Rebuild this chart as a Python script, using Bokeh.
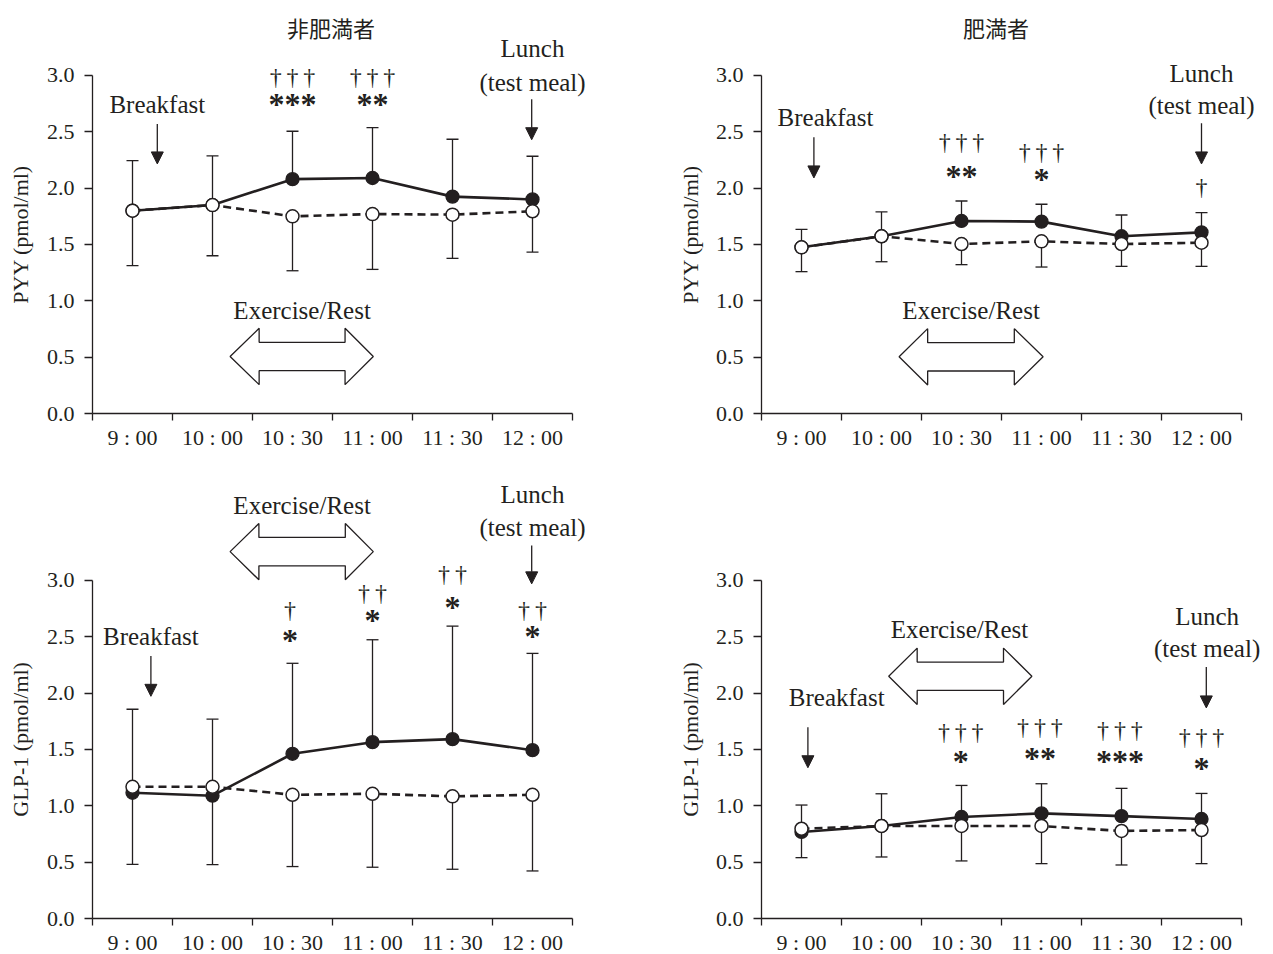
import numpy as np
from bokeh.plotting import figure
from bokeh.models import Range1d, FixedTicker, Arrow, NormalHead
from bokeh.layouts import row, column
from bokeh.embed import file_html
from bokeh.resources import INLINE
from bokeh.core.properties import value

# ---------------- data ----------------
times = ["9 : 00", "10 : 00", "10 : 30", "11 : 00", "11 : 30", "12 : 00"]
y_ticks = [0.0, 0.5, 1.0, 1.5, 2.0, 2.5, 3.0]
y_tick_labels = ["0.0", "0.5", "1.0", "1.5", "2.0", "2.5", "3.0"]

# PYY, non-obese (非肥満者)
pyy_lean_ex = [1.80, 1.85, 2.08, 2.09, 1.925, 1.90]
pyy_lean_ex_upper = [2.245, 2.286, 2.505, 2.538, 2.434, 2.283]
pyy_lean_rest = [1.80, 1.85, 1.75, 1.77, 1.765, 1.795]
pyy_lean_rest_lower = [1.312, 1.40, 1.267, 1.279, 1.377, 1.433]
pyy_lean_dagger = ["", "", "†††", "†††", "", ""]
pyy_lean_star = ["", "", "***", "**", "", ""]

# PYY, obese (肥満者)
pyy_obese_ex = [1.475, 1.573, 1.709, 1.703, 1.573, 1.608]
pyy_obese_ex_upper = [1.635, 1.789, 1.886, 1.857, 1.762, 1.783]
pyy_obese_rest = [1.475, 1.573, 1.504, 1.528, 1.504, 1.516]
pyy_obese_rest_lower = [1.259, 1.347, 1.321, 1.300, 1.306, 1.306]
pyy_obese_dagger = ["", "", "†††", "†††", "", "†"]
pyy_obese_star = ["", "", "**", "*", "", ""]

# GLP-1, non-obese
glp_lean_ex = [1.116, 1.090, 1.462, 1.565, 1.592, 1.494]
glp_lean_ex_upper = [1.857, 1.769, 2.265, 2.474, 2.595, 2.353]
glp_lean_rest = [1.169, 1.169, 1.098, 1.107, 1.084, 1.098]
glp_lean_rest_lower = [0.481, 0.478, 0.461, 0.455, 0.437, 0.422]
glp_lean_dagger = ["", "", "†", "††", "††", "††"]
glp_lean_star = ["", "", "*", "*", "*", "*"]

# GLP-1, obese
glp_obese_ex = [0.768, 0.821, 0.901, 0.933, 0.909, 0.883]
glp_obese_ex_upper = [1.007, 1.107, 1.181, 1.196, 1.155, 1.110]
glp_obese_rest = [0.797, 0.821, 0.821, 0.821, 0.777, 0.785]
glp_obese_rest_lower = [0.540, 0.546, 0.511, 0.487, 0.475, 0.487]
glp_obese_dagger = ["", "", "†††", "†††", "†††", "†††"]
glp_obese_star = ["", "", "*", "**", "***", "*"]

# ---------------- styling ----------------
INK = "#231f20"
SERIF = "Liberation Serif"
CJK = "Noto Sans CJK JP"
PX_PER_X = 80.0      # pixels per time slot
PX_PER_Y = 112.67    # pixels per pmol/ml


def thin(s):
    return "\u2009".join(list(s))


def make_panel(ex, ex_up, rest, rest_lo, daggers, stars, cfg):
    W, H = cfg["W"], cfg["H"]
    ox, oy = cfg["ox"], cfg["oy"]   # pixel position of the axes origin inside the figure
    xr = Range1d(-ox / PX_PER_X, (W - ox) / PX_PER_X)
    yr = Range1d(-(H - oy) / PX_PER_Y, oy / PX_PER_Y)
    p = figure(width=W, height=H, min_border=0, min_border_left=0, min_border_right=0,
               min_border_top=0, min_border_bottom=0, x_range=xr, y_range=yr,
               output_backend="svg", toolbar_location=None, tools="")
    p.outline_line_color = None
    p.grid.visible = False

    n = len(times)
    xpos = np.arange(n) + 0.5

    xa = p.xaxis[0]
    xa.fixed_location = 0
    xa.bounds = (0, n)
    xa.ticker = FixedTicker(ticks=list(xpos), minor_ticks=list(range(n + 1)))
    xa.major_label_overrides = {float(x): t for x, t in zip(xpos, times)}
    xa.major_tick_out = 0
    xa.major_tick_in = 0
    xa.major_tick_line_color = None
    xa.minor_tick_out = 7
    xa.minor_tick_in = 0
    xa.minor_tick_line_color = INK
    xa.minor_tick_line_width = 1.3
    xa.major_label_standoff = 4
    xa.major_label_text_font = SERIF
    xa.major_label_text_font_size = "22px"
    xa.major_label_text_color = INK
    xa.axis_line_color = INK
    xa.axis_line_width = 1.3

    ya = p.yaxis[0]
    ya.fixed_location = 0
    ya.bounds = (y_ticks[0], y_ticks[-1])
    ya.ticker = FixedTicker(ticks=y_ticks)
    ya.major_label_overrides = {t: l for t, l in zip(y_ticks, y_tick_labels)}
    ya.major_tick_out = 8
    ya.major_tick_in = 0
    ya.minor_tick_line_color = None
    ya.major_label_standoff = 10
    ya.major_label_text_font = SERIF
    ya.major_label_text_font_size = "22px"
    ya.major_label_text_color = INK
    ya.axis_line_color = INK
    ya.axis_line_width = 1.3
    ya.major_tick_line_color = INK
    ya.major_tick_line_width = 1.3

    # y-axis title
    p.text(x=[cfg["ylab_x"]], y=[1.59], text=[cfg["ylabel"]], angle=np.pi / 2,
           text_font=value(SERIF), text_font_size="22px", text_align="center",
           text_baseline="middle", text_color=INK)

    if cfg.get("title"):
        tx, ty = cfg["title_pos"]
        p.text(x=[tx], y=[ty], text=[cfg["title"]], text_font=value(CJK),
               text_font_size="22px", text_align="center", text_baseline="middle",
               text_color=INK)

    # error bars (exercise: +SD, rest: -SD)
    p.segment(x0=xpos, y0=ex, x1=xpos, y1=ex_up, line_color=INK, line_width=1.3)
    p.scatter(x=xpos, y=ex_up, marker="dash", size=12, line_color=INK, line_width=1.3)
    p.segment(x0=xpos, y0=rest, x1=xpos, y1=rest_lo, line_color=INK, line_width=1.3)
    p.scatter(x=xpos, y=rest_lo, marker="dash", size=12, line_color=INK, line_width=1.3)

    # lines and markers
    p.line(xpos, ex, line_color=INK, line_width=2.6)
    p.line(xpos, rest, line_color=INK, line_width=2.6, line_dash="8 5")
    p.scatter(xpos, ex, size=13, fill_color=INK, line_color=INK, line_width=1.3)
    p.scatter(xpos, rest, size=13, fill_color="white", line_color=INK, line_width=1.5)

    # significance marks
    for i in range(n):
        dx = cfg["sig_dx"][i]
        if daggers[i]:
            p.text(x=[xpos[i] + dx], y=[cfg["dag_y"][i]], text=[thin(daggers[i])],
                   text_font=value(SERIF), text_font_size="24px", text_align="center",
                   text_baseline="middle", text_color=INK)
        if stars[i]:
            p.text(x=[xpos[i] + dx], y=[cfg["star_y"][i]], text=[stars[i]],
                   text_font=value(SERIF), text_font_size="32px", text_font_style="bold",
                   text_align="center", text_baseline="middle", text_color=INK)

    # Breakfast
    bx, by = cfg["bf_text"]
    p.text(x=[bx], y=[by], text=["Breakfast"], text_font=value(SERIF), text_font_size="25px",
           text_align="center", text_baseline="middle", text_color=INK)
    ax, ay0, ay1 = cfg["bf_arrow"]
    p.add_layout(Arrow(end=NormalHead(size=12, fill_color=INK, line_color=INK, line_width=1),
                       x_start=ax, y_start=ay0, x_end=ax, y_end=ay1,
                       line_color=INK, line_width=1.3))

    # Lunch (test meal)
    lx, ly1, ly2 = cfg["lunch_text"]
    p.text(x=[lx], y=[ly1], text=["Lunch"], text_font=value(SERIF), text_font_size="25px",
           text_align="center", text_baseline="middle", text_color=INK)
    p.text(x=[lx], y=[ly2], text=["(test meal)"], text_font=value(SERIF), text_font_size="25px",
           text_align="center", text_baseline="middle", text_color=INK)
    ax, ay0, ay1 = cfg["lunch_arrow"]
    p.add_layout(Arrow(end=NormalHead(size=12, fill_color=INK, line_color=INK, line_width=1),
                       x_start=ax, y_start=ay0, x_end=ax, y_end=ay1,
                       line_color=INK, line_width=1.3))

    # Exercise/Rest double arrow
    ex_x, ex_y = cfg["er_text"]
    p.text(x=[ex_x], y=[ex_y], text=["Exercise/Rest"], text_font=value(SERIF),
           text_font_size="25px", text_align="center", text_baseline="middle", text_color=INK)
    xl, xbl, xbr, xrt, yc = cfg["er_arrow"]
    hh, sh = 0.25, 0.126
    pxs = [xl, xbl, xbl, xbr, xbr, xrt, xbr, xbr, xbl, xbl]
    pys = [yc, yc + hh, yc + sh, yc + sh, yc + hh, yc, yc - hh, yc - sh, yc - sh, yc - hh]
    p.patch(pxs, pys, fill_color="white", line_color=INK, line_width=1.3)
    return p


top = dict(H=477, oy=413)
bot = dict(H=477, oy=441)
left = dict(W=636, ox=92, ylab_x=-0.9)
right = dict(W=637, ox=125, ylab_x=-0.89)

cfg_tl = dict(**top, **left, ylabel="PYY (pmol/ml)", title="非肥満者", title_pos=(2.98, 3.426),
              sig_dx=[0, 0, 0, 0, 0, 0],
              dag_y=[0, 0, 2.985, 2.985, 0, 0], star_y=[0, 0, 2.748, 2.748, 0, 0],
              bf_text=(0.81, 2.74), bf_arrow=(0.81, 2.57, 2.215),
              lunch_text=(5.5, 3.24, 2.94), lunch_arrow=(5.49, 2.79, 2.43),
              er_text=(2.62, 0.918), er_arrow=(1.72, 2.083, 3.157, 3.51, 0.506))
cfg_tr = dict(**top, **right, ylabel="PYY (pmol/ml)", title="肥満者", title_pos=(2.93, 3.426),
              sig_dx=[0, 0, 0, 0, 0, 0],
              dag_y=[0, 0, 2.408, 2.319, 0, 2.014], star_y=[0, 0, 2.111, 2.082, 0, 0],
              bf_text=(0.80, 2.63), bf_arrow=(0.655, 2.452, 2.091),
              lunch_text=(5.5, 3.015, 2.734), lunch_arrow=(5.5, 2.577, 2.215),
              er_text=(2.62, 0.918), er_arrow=(1.72, 2.077, 3.16, 3.52, 0.503))
cfg_bl = dict(**bot, **left, ylabel="GLP-1 (pmol/ml)",
              sig_dx=[0, 0, -0.03, 0, 0, 0],
              dag_y=[0, 0, 2.740, 2.891, 3.059, 2.740], star_y=[0, 0, 2.474, 2.646, 2.764, 2.504],
              bf_text=(0.73, 2.504), bf_arrow=(0.73, 2.33, 1.972),
              lunch_text=(5.5, 3.763, 3.47), lunch_arrow=(5.49, 3.31, 2.97),
              er_text=(2.62, 3.666), er_arrow=(1.72, 2.08, 3.16, 3.51, 3.256))
cfg_br = dict(**bot, **right, ylabel="GLP-1 (pmol/ml)",
              sig_dx=[0, 0, -0.01, -0.02, -0.02, 0],
              dag_y=[0, 0, 1.654, 1.698, 1.677, 1.609], star_y=[0, 0, 1.397, 1.426, 1.397, 1.338],
              bf_text=(0.94, 1.964), bf_arrow=(0.58, 1.698, 1.338),
              lunch_text=(5.57, 2.681, 2.392), lunch_arrow=(5.56, 2.232, 1.869),
              er_text=(2.475, 2.569), er_arrow=(1.59, 1.946, 3.025, 3.38, 2.15))

p1 = make_panel(pyy_lean_ex, pyy_lean_ex_upper, pyy_lean_rest, pyy_lean_rest_lower,
                pyy_lean_dagger, pyy_lean_star, cfg_tl)
p2 = make_panel(pyy_obese_ex, pyy_obese_ex_upper, pyy_obese_rest, pyy_obese_rest_lower,
                pyy_obese_dagger, pyy_obese_star, cfg_tr)
p3 = make_panel(glp_lean_ex, glp_lean_ex_upper, glp_lean_rest, glp_lean_rest_lower,
                glp_lean_dagger, glp_lean_star, cfg_bl)
p4 = make_panel(glp_obese_ex, glp_obese_ex_upper, glp_obese_rest, glp_obese_rest_lower,
                glp_obese_dagger, glp_obese_star, cfg_br)

layout = column(row(p1, p2, spacing=0), row(p3, p4, spacing=0), spacing=0)
open("out.html", "w").write(file_html(layout, INLINE))
